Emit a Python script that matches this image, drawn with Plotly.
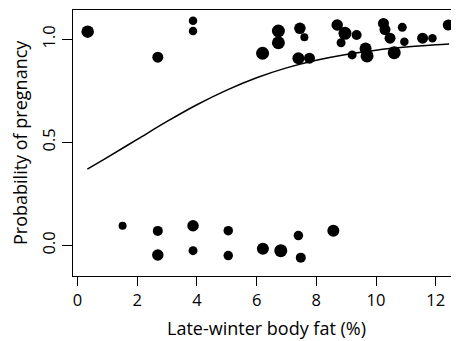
import plotly.graph_objects as go

# Observed points (body fat %, jittered pregnancy outcome), marker diameters
fat_pregnant = [0.34, 2.69, 3.87, 3.87, 6.20, 6.73, 6.73, 7.45, 7.60, 7.40, 7.77,
                8.70, 8.96, 8.83, 9.35, 9.20, 9.65, 9.70, 10.25, 10.30, 10.47,
                10.88, 10.95, 10.61, 11.56, 11.89, 12.42]
outcome_pregnant = [1.037, 0.913, 1.090, 1.040, 0.932, 1.040, 0.983, 1.053, 1.010, 0.908, 0.908,
                    1.069, 1.029, 0.983, 1.021, 0.924, 0.955, 0.919, 1.077, 1.047, 1.005,
                    1.058, 0.988, 0.935, 1.005, 1.005, 1.069]
size_pregnant = [12.5, 11, 8.5, 8.5, 13, 13, 13, 11.5, 8, 12, 11,
                 11.5, 13, 9, 10, 9, 12, 13, 11, 11, 11,
                 9, 8.5, 13, 11, 8.5, 11]

fat_barren = [1.51, 2.69, 2.69, 3.87, 3.87, 5.05, 5.05, 6.21, 6.81, 7.40, 7.48, 8.57]
outcome_barren = [0.095, 0.070, -0.047, 0.095, -0.026, 0.071, -0.050, -0.017, -0.026, 0.047, -0.060, 0.071]
size_barren = [8, 10, 11.5, 11.5, 9, 9.5, 9.5, 12, 13, 9.5, 10, 12]

# Fitted logistic curve
curve_fat = [0.33, 1, 2, 3, 4, 5, 6, 7, 8, 9, 10, 11, 12, 12.45]
curve_prob = [0.370, 0.427, 0.514, 0.601, 0.682, 0.753, 0.813, 0.861, 0.898, 0.926, 0.947, 0.962, 0.973, 0.977]

x_ticks = [0, 2, 4, 6, 8, 10, 12]
y_ticks = [0.0, 0.5, 1.0]
y_tick_text = ["0.0", "0.5", "1.0"]

FONT = "Open Sans"

fig = go.Figure()
fig.add_trace(go.Scatter(
    x=fat_pregnant + fat_barren,
    y=outcome_pregnant + outcome_barren,
    mode="markers",
    marker=dict(color="black", opacity=1, size=size_pregnant + size_barren, line=dict(width=0)),
    showlegend=False, hoverinfo="skip"))
fig.add_trace(go.Scatter(
    x=curve_fat, y=curve_prob, mode="lines", line_shape="spline",
    line=dict(color="black", width=1.5), showlegend=False, hoverinfo="skip"))

fig.update_layout(
    width=451, height=333,
    margin=dict(l=65, r=0, t=2, b=65),
    paper_bgcolor="white", plot_bgcolor="white",
    font=dict(family=FONT, color="black", size=16),
    xaxis=dict(range=[-0.151, 12.78], tickvals=x_ticks, ticks="outside", ticklen=9,
               tickwidth=1, tickcolor="black", showline=True, linecolor="black",
               linewidth=1.2, mirror=True, showgrid=False, zeroline=False,
               tickfont=dict(size=16.5, family=FONT)),
    yaxis=dict(range=[-0.149, 1.142], tickvals=y_ticks, ticktext=y_tick_text,
               ticks="outside", ticklen=10, tickwidth=1, tickcolor="black",
               showline=True, linecolor="black", linewidth=1.2, mirror=False,
               showgrid=False, zeroline=False, tickangle=-90,
               tickfont=dict(size=16.5, family=FONT)),
    annotations=[
        dict(text="Late-winter body fat (%)", xref="paper", yref="paper", x=0.5, y=0,
             xanchor="center", yanchor="middle", yshift=-52, showarrow=False,
             font=dict(size=18, family=FONT)),
        dict(text="Probability of pregnancy", xref="paper", yref="paper", x=0, y=0.5,
             xanchor="center", yanchor="middle", xshift=-53, textangle=-90,
             showarrow=False, font=dict(size=18, family=FONT)),
    ],
)

fig.write_html("out.html")
